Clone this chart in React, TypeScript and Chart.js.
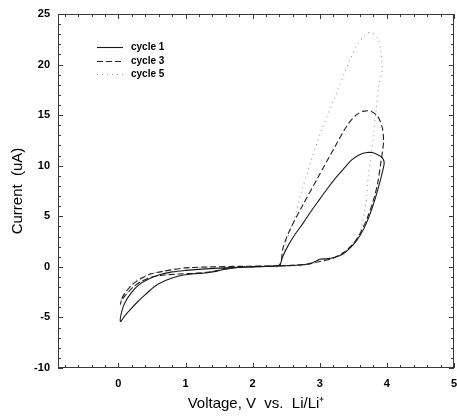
import React, { useEffect, useRef } from "react";
import { Chart, registerables } from "chart.js";

Chart.register(...registerables);

const xTickValues = [0, 1, 2, 3, 4, 5];
const yTickValues = [-10, -5, 0, 5, 10, 15, 20, 25];
const seriesLabels = ["cycle 1", "cycle 3", "cycle 5"];
const xTitle = "Voltage, V  vs.  Li/Li\u207A";
const yTitle = "Current  (uA)";

const cycle1V = [2.40, 2.60, 2.80, 2.92, 3.00, 3.10, 3.20, 3.35, 3.50, 3.60, 3.70, 3.80, 3.88, 3.93, 3.96,
  3.93, 3.86, 3.78, 3.70, 3.60, 3.48, 3.37, 3.25, 3.12, 3.00, 2.87, 2.75, 2.63, 2.52, 2.44, 2.40,
  2.20, 2.00, 1.80, 1.60, 1.45, 1.30, 1.10, 0.90, 0.70, 0.55, 0.40, 0.28, 0.18, 0.10, 0.03,
  0.05, 0.10, 0.20, 0.30, 0.45, 0.60, 0.80, 1.00, 1.30, 1.60, 2.00, 2.40];
const cycle1I = [0.10, 0.15, 0.25, 0.50, 0.75, 0.80, 0.90, 1.30, 2.20, 3.10, 4.40, 6.20, 8.00, 9.30, 10.30,
  10.80, 11.10, 11.30, 11.30, 11.10, 10.60, 9.80, 8.90, 7.80, 6.70, 5.50, 4.30, 3.20, 2.00, 0.90, 0.15,
  0.05, 0.02, -0.05, -0.20, -0.45, -0.60, -0.70, -0.90, -1.35, -1.90, -2.75, -3.50, -4.20, -4.80, -5.40,
  -4.40, -3.50, -2.50, -1.80, -1.20, -0.80, -0.50, -0.35, -0.20, -0.10, 0.00, 0.10];

const cycle3V = [2.40, 2.60, 2.80, 2.95, 3.05, 3.20, 3.35, 3.50, 3.60, 3.70, 3.80, 3.86, 3.91, 3.95,
  3.93, 3.86, 3.76, 3.66, 3.56, 3.42, 3.22, 2.97, 2.73, 2.53, 2.45, 2.40,
  2.20, 2.00, 1.80, 1.60, 1.45, 1.30, 1.10, 0.90, 0.70, 0.50, 0.35, 0.22, 0.12, 0.05, 0.03,
  0.06, 0.12, 0.20, 0.30, 0.46, 0.70, 1.00, 1.40, 1.80, 2.40];
const cycle3I = [0.10, 0.15, 0.25, 0.45, 0.60, 0.85, 1.40, 2.30, 3.30, 4.70, 6.60, 8.20, 10.30, 12.40,
  13.80, 14.90, 15.40, 15.40, 15.10, 14.10, 11.80, 8.80, 5.90, 3.30, 1.80, 0.20,
  0.05, 0.00, -0.05, -0.20, -0.40, -0.55, -0.65, -0.70, -0.80, -1.00, -1.40, -2.00, -2.70, -3.30, -3.70,
  -3.00, -2.40, -1.80, -1.30, -0.75, -0.40, -0.10, 0.00, 0.05, 0.10];

const cycle5V = [2.40, 2.70, 2.90, 3.00, 3.10, 3.20, 3.35, 3.50, 3.60, 3.66, 3.70, 3.72, 3.76, 3.80, 3.84, 3.88, 3.93,
  3.91, 3.86, 3.76, 3.69, 3.56, 3.42, 3.22, 3.02, 2.87, 2.73, 2.61, 2.50, 2.40,
  2.20, 2.00, 1.80, 1.60, 1.45, 1.30, 1.10, 0.90, 0.70, 0.50, 0.35, 0.22, 0.12, 0.05, 0.03,
  0.06, 0.12, 0.20, 0.30, 0.46, 0.70, 1.00, 1.40, 1.80, 2.40];
const cycle5I = [0.10, 0.10, 0.30, 0.70, 0.80, 0.90, 1.40, 2.40, 3.40, 5.20, 7.00, 8.80, 10.80, 13.00, 15.50, 18.00, 19.40,
  21.30, 22.60, 23.20, 23.00, 22.00, 20.00, 16.70, 13.40, 10.50, 7.50, 4.50, 2.50, 0.10,
  0.05, 0.00, -0.05, -0.20, -0.40, -0.55, -0.65, -0.70, -0.80, -1.00, -1.40, -2.00, -2.70, -3.20, -3.50,
  -2.90, -2.30, -1.70, -1.20, -0.70, -0.35, -0.10, 0.00, 0.05, 0.10];

const FONT = "'Liberation Sans', Arial, Helvetica, sans-serif";

function pts(v: number[], i: number[]) {
  return v.map((x, k) => ({ x, y: i[k] }));
}

const lineStyles = [
  { color: "#1a1a1a", dash: [] as number[], width: 1.1 },
  { color: "#222222", dash: [6, 3], width: 1.1 },
  { color: "#999999", dash: [1, 4], width: 1.1 },
];

const framePlugin = {
  id: "frameTicks",
  afterDatasetsDraw(chart: any) {
    const { ctx, chartArea: a, scales } = chart;
    ctx.save();
    ctx.strokeStyle = "#3a3a3a";
    ctx.lineWidth = 1;
    ctx.setLineDash([]);
    ctx.strokeRect(Math.round(a.left) + 0.5, Math.round(a.top) + 0.5,
      Math.round(a.right - a.left) - 1, Math.round(a.bottom - a.top) - 1);
    ctx.beginPath();
    for (let k = -10; k <= 25; k++) {
      const py = Math.round(scales.y.getPixelForValue(k)) + 0.5;
      const len = k % 5 === 0 ? 5 : 3;
      ctx.moveTo(a.left, py); ctx.lineTo(a.left + len, py);
      ctx.moveTo(a.right, py); ctx.lineTo(a.right - len, py);
    }
    for (let k = -4; k <= 25; k++) {
      const px = Math.round(scales.x.getPixelForValue(k / 5)) + 0.5;
      const len = k % 5 === 0 ? 5 : 3;
      ctx.moveTo(px, a.bottom); ctx.lineTo(px, a.bottom - len);
      ctx.moveTo(px, a.top); ctx.lineTo(px, a.top + len);
    }
    ctx.stroke();

    // legend
    const lx0 = 97, lx1 = 123, tx = 131;
    const rows = [47, 61, 74];
    ctx.font = `bold 10px ${FONT}`;
    ctx.textBaseline = "middle";
    ctx.textAlign = "left";
    ctx.fillStyle = "#000";
    seriesLabels.forEach((lab, idx) => {
      const st = lineStyles[idx];
      ctx.beginPath();
      ctx.strokeStyle = st.color;
      ctx.lineWidth = st.width;
      ctx.setLineDash(st.dash);
      ctx.moveTo(lx0, rows[idx] + 0.5);
      ctx.lineTo(lx1, rows[idx] + 0.5);
      ctx.stroke();
      ctx.fillText(lab, tx, rows[idx]);
    });
    ctx.restore();
  },
};

export default function App() {
  const ref = useRef<HTMLCanvasElement | null>(null);
  useEffect(() => {
    if (!ref.current) return;
    const series = [pts(cycle1V, cycle1I), pts(cycle3V, cycle3I), pts(cycle5V, cycle5I)];
    const chart = new Chart(ref.current, {
      type: "scatter",
      data: {
        datasets: series.map((d, idx) => ({
          label: seriesLabels[idx],
          data: d,
          showLine: true,
          pointRadius: 0,
          borderColor: lineStyles[idx].color,
          borderWidth: lineStyles[idx].width,
          borderDash: lineStyles[idx].dash,
          tension: 0.3,
          fill: false,
        })),
      },
      options: {
        animation: false,
        responsive: false,
        devicePixelRatio: 1,
        layout: { padding: { top: 14, right: 3, left: 0, bottom: 0 } },
        plugins: { legend: { display: false }, tooltip: { enabled: false } },
        scales: {
          x: {
            type: "linear",
            min: -0.9,
            max: 5,
            afterBuildTicks: (s: any) => { s.ticks = xTickValues.map((v) => ({ value: v })); },
            afterFit: (s: any) => { s.height = 50; s.paddingLeft = 0; s.paddingRight = 0; },
            grid: { display: false, drawTicks: false },
            border: { display: false },
            ticks: {
              color: "#000",
              padding: 9,
              font: { family: FONT, size: 11, weight: "bold" },
              maxRotation: 0,
            },
            title: {
              display: true,
              text: xTitle,
              color: "#000",
              font: { family: FONT, size: 15 },
              padding: { top: 0, bottom: 5 },
            },
          },
          y: {
            type: "linear",
            min: -10,
            max: 25,
            afterBuildTicks: (s: any) => { s.ticks = yTickValues.map((v) => ({ value: v })); },
            afterFit: (s: any) => { s.width = 58; s.paddingTop = 0; s.paddingBottom = 0; },
            grid: { display: false, drawTicks: false },
            border: { display: false },
            ticks: {
              color: "#000",
              padding: 8,
              font: { family: FONT, size: 11, weight: "bold" },
            },
            title: {
              display: true,
              text: yTitle,
              color: "#000",
              font: { family: FONT, size: 15 },
              padding: { top: 9, bottom: 0 },
            },
          },
        },
      },
      plugins: [framePlugin],
    } as any);
    return () => chart.destroy();
  }, []);
  return (
    <div style={{ position: "fixed", left: 0, top: 0, width: 457, height: 418, background: "#fff" }}>
      <canvas ref={ref} width={457} height={418} style={{ width: 457, height: 418, display: "block" }} />
    </div>
  );
}
